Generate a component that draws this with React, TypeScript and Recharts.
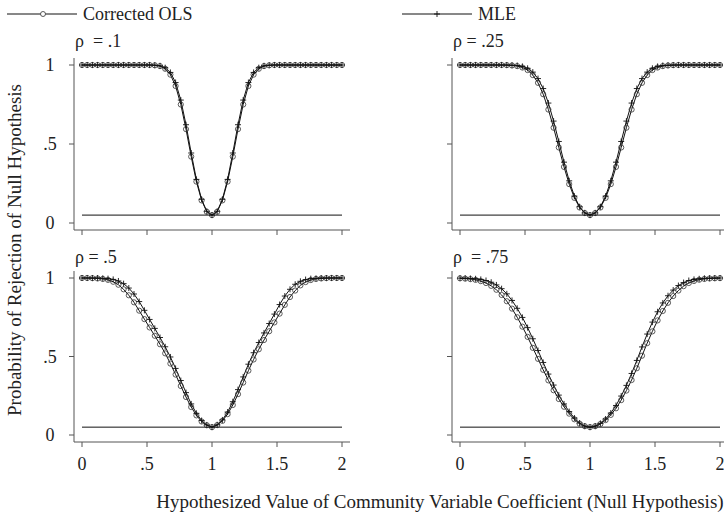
import { LineChart, Line, XAxis, YAxis, ReferenceLine } from "recharts";

// hypothesized coefficient grid
const coef = [0, 0.04, 0.08, 0.12, 0.16, 0.2, 0.24, 0.28, 0.32, 0.36, 0.4, 0.44, 0.48, 0.52, 0.56, 0.6, 0.64, 0.68, 0.72, 0.76, 0.8, 0.84, 0.88, 0.92, 0.96, 1, 1.04, 1.08, 1.12, 1.16, 1.2, 1.24, 1.28, 1.32, 1.36, 1.4, 1.44, 1.48, 1.52, 1.56, 1.6, 1.64, 1.68, 1.72, 1.76, 1.8, 1.84, 1.88, 1.92, 1.96, 2];

// rho = .1
const ols1 = [1, 1, 1, 1, 1, 1, 1, 1, 1, 1, 1, 1, 1, 1, 0.998, 0.993, 0.976, 0.939, 0.867, 0.75, 0.594, 0.42, 0.262, 0.143, 0.071, 0.05, 0.071, 0.143, 0.262, 0.42, 0.594, 0.75, 0.867, 0.939, 0.976, 0.993, 0.998, 1, 1, 1, 1, 1, 1, 1, 1, 1, 1, 1, 1, 1, 1];
const mle1 = [1, 1, 1, 1, 1, 1, 1, 1, 1, 1, 1, 1, 1, 1, 0.999, 0.995, 0.983, 0.953, 0.889, 0.778, 0.622, 0.443, 0.276, 0.15, 0.074, 0.05, 0.074, 0.15, 0.276, 0.443, 0.622, 0.778, 0.889, 0.953, 0.983, 0.995, 0.999, 1, 1, 1, 1, 1, 1, 1, 1, 1, 1, 1, 1, 1, 1];

// rho = .25
const ols2 = [1, 1, 1, 1, 1, 1, 1, 1, 1, 0.999, 0.997, 0.993, 0.984, 0.968, 0.936, 0.887, 0.815, 0.718, 0.603, 0.478, 0.355, 0.246, 0.159, 0.098, 0.063, 0.05, 0.063, 0.098, 0.159, 0.246, 0.355, 0.478, 0.603, 0.718, 0.815, 0.887, 0.936, 0.968, 0.984, 0.993, 0.997, 0.999, 1, 1, 1, 1, 1, 1, 1, 1, 1];
const mle2 = [1, 1, 1, 1, 1, 1, 1, 1, 1, 1, 0.999, 0.997, 0.991, 0.979, 0.955, 0.914, 0.851, 0.759, 0.645, 0.516, 0.385, 0.267, 0.17, 0.103, 0.064, 0.05, 0.064, 0.103, 0.17, 0.267, 0.385, 0.516, 0.645, 0.759, 0.851, 0.914, 0.955, 0.979, 0.991, 0.997, 0.999, 1, 1, 1, 1, 1, 1, 1, 1, 1, 1];

// rho = .5
const ols3 = [1, 1, 0.999, 0.997, 0.994, 0.988, 0.976, 0.957, 0.928, 0.89, 0.845, 0.792, 0.738, 0.685, 0.632, 0.578, 0.52, 0.455, 0.385, 0.312, 0.242, 0.178, 0.125, 0.086, 0.062, 0.05, 0.063, 0.09, 0.133, 0.191, 0.26, 0.334, 0.41, 0.481, 0.546, 0.605, 0.661, 0.717, 0.773, 0.829, 0.879, 0.92, 0.953, 0.974, 0.987, 0.994, 0.997, 0.999, 1, 1, 1];
const mle3 = [1, 1, 1, 1, 0.998, 0.996, 0.991, 0.981, 0.964, 0.936, 0.898, 0.85, 0.794, 0.736, 0.679, 0.621, 0.562, 0.497, 0.424, 0.347, 0.27, 0.198, 0.138, 0.092, 0.064, 0.05, 0.065, 0.096, 0.146, 0.212, 0.289, 0.37, 0.451, 0.524, 0.589, 0.65, 0.71, 0.77, 0.831, 0.885, 0.928, 0.96, 0.979, 0.99, 0.996, 0.998, 1, 1, 1, 1, 1];

// rho = .75
const ols4 = [0.998, 0.996, 0.993, 0.988, 0.98, 0.968, 0.95, 0.925, 0.892, 0.852, 0.805, 0.75, 0.69, 0.625, 0.555, 0.485, 0.415, 0.348, 0.285, 0.229, 0.18, 0.136, 0.1, 0.072, 0.056, 0.05, 0.056, 0.07, 0.095, 0.128, 0.17, 0.222, 0.283, 0.35, 0.425, 0.505, 0.585, 0.66, 0.73, 0.79, 0.842, 0.885, 0.92, 0.948, 0.968, 0.981, 0.989, 0.994, 0.997, 0.998, 0.999];
const mle4 = [0.999, 0.999, 0.997, 0.995, 0.991, 0.984, 0.973, 0.956, 0.932, 0.899, 0.857, 0.807, 0.749, 0.684, 0.613, 0.538, 0.462, 0.388, 0.318, 0.254, 0.198, 0.149, 0.108, 0.076, 0.057, 0.05, 0.057, 0.074, 0.102, 0.14, 0.188, 0.248, 0.316, 0.392, 0.475, 0.561, 0.643, 0.719, 0.785, 0.841, 0.887, 0.923, 0.952, 0.971, 0.984, 0.991, 0.995, 0.998, 0.999, 1, 1];

const panelLabels = ["\u03C1\u00A0\u00A0= .1", "\u03C1 = .25", "\u03C1 = .5", "\u03C1\u00A0\u00A0= .75"];
const nominalSize = 0.05;

const xTicks = [0, 0.5, 1, 1.5, 2];
const xTickLabels = ["0", ".5", "1", "1.5", "2"];
const yTicks = [0, 0.5, 1];
const yTickLabels = ["0", ".5", "1"];

const FONT = "'Liberation Serif', 'Times New Roman', serif";
const AXIS = "#555";

const toRows = (ols: number[], mle: number[]) =>
  coef.map((x, i) => ({ x, ols: ols[i], mle: mle[i] }));

const PlusDot = (p: any) => {
  const { cx, cy, index } = p;
  if (cx == null || cy == null) return <g key={index} />;
  return (
    <path key={index} d={`M${cx - 3},${cy}h6M${cx},${cy - 3}v6`} stroke="#111" strokeWidth={0.9} fill="none" />
  );
};

const XTick = ({ x, y, payload }: any) => (
  <text x={x} y={y + 21} textAnchor="middle" fontFamily={FONT} fontSize={18} fill="#222">
    {xTickLabels[xTicks.indexOf(payload.value)]}
  </text>
);

const YTick = ({ x, y, payload }: any) => (
  <text x={x - 17} y={y + 6} textAnchor="middle" fontFamily={FONT} fontSize={18} fill="#222">
    {yTickLabels[yTicks.indexOf(payload.value)]}
  </text>
);

const NoTick = () => <g />;

function Panel({ rows, left, top, bottomRow, showYLabels }: any) {
  const height = bottomRow ? top + 171 + 40 : top + 172 + 10;
  return (
    <div style={{ position: "absolute", left, top: 0 }}>
      <LineChart width={350} height={height} data={rows} margin={{ top, right: 0, bottom: 0, left: 0 }}>
        <XAxis
          dataKey="x"
          type="number"
          domain={[0, 2]}
          ticks={xTicks}
          padding={{ left: 8, right: 8 }}
          height={bottomRow ? 40 : 10}
          tickSize={5}
          stroke={AXIS}
          tick={bottomRow ? <XTick /> : <NoTick />}
          interval={0}
        />
        <YAxis
          type="number"
          domain={[0, 1]}
          ticks={yTicks}
          padding={{ top: 7, bottom: 7 }}
          width={74}
          tickSize={5}
          stroke={AXIS}
          tick={showYLabels ? <YTick /> : <NoTick />}
          interval={0}
        />
        <ReferenceLine segment={[{ x: 0, y: nominalSize }, { x: 2, y: nominalSize }]} stroke="#111" strokeWidth={1} />
        <Line
          dataKey="ols"
          stroke="#111"
          strokeWidth={1}
          isAnimationActive={false}
          dot={{ r: 2.6, fill: "none", stroke: "#333", strokeWidth: 0.8 }}
          activeDot={false}
        />
        <Line
          dataKey="mle"
          stroke="#111"
          strokeWidth={1}
          isAnimationActive={false}
          dot={<PlusDot />}
          activeDot={false}
        />
      </LineChart>
    </div>
  );
}

export default function App() {
  const txt = { fontFamily: FONT, fontSize: 18, fill: "#222" };
  const title = { fontFamily: FONT, fontSize: 19, fill: "#222" };
  return (
    <div style={{ position: "fixed", left: 0, top: 0, width: 724, height: 517, overflow: "hidden", background: "#fff" }}>
      <Panel rows={toRows(ols1, mle1)} left={0} top={58} bottomRow={false} showYLabels />
      <Panel rows={toRows(ols2, mle2)} left={378} top={58} bottomRow={false} showYLabels={false} />
      <Panel rows={toRows(ols3, mle3)} left={0} top={271} bottomRow showYLabels />
      <Panel rows={toRows(ols4, mle4)} left={378} top={271} bottomRow showYLabels={false} />
      <svg width={724} height={517} style={{ position: "absolute", left: 0, top: 0, pointerEvents: "none" }}>
        {/* legend */}
        <line x1={7} x2={77} y1={14} y2={14} stroke="#111" strokeWidth={1} />
        <circle cx={43} cy={14} r={2.5} fill="#fff" stroke="#333" strokeWidth={0.8} />
        <text x={83} y={20} {...txt}>Corrected OLS</text>
        <line x1={402} x2={472} y1={14} y2={14} stroke="#111" strokeWidth={1} />
        <path d="M434,14h6M437,11v6" stroke="#111" strokeWidth={0.9} />
        <text x={478} y={20} {...txt}>MLE</text>
        {/* panel labels */}
        <text x={75} y={47} {...txt}>{panelLabels[0]}</text>
        <text x={453} y={47} {...txt}>{panelLabels[1]}</text>
        <text x={75} y={263} {...txt}>{panelLabels[2]}</text>
        <text x={453} y={263} {...txt}>{panelLabels[3]}</text>
        {/* axis titles */}
        <text x={21} y={250} transform="rotate(-90 21 250)" textAnchor="middle" {...title}>
          Probability of Rejection of Null Hypothesis
        </text>
        <text x={440} y={508} textAnchor="middle" {...title}>
          Hypothesized Value of Community Variable Coefficient (Null Hypothesis)
        </text>
      </svg>
    </div>
  );
}
